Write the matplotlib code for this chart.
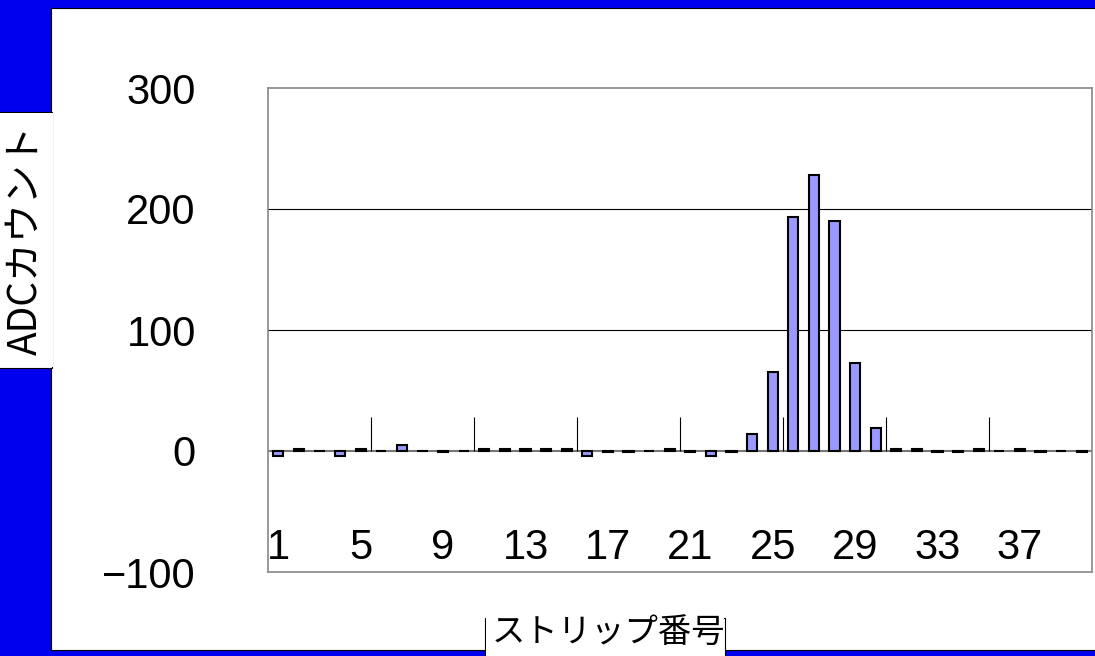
import matplotlib.pyplot as plt
from matplotlib.patches import Rectangle

plt.rcParams['font.family'] = ['Liberation Sans', 'Noto Sans CJK JP', 'DejaVu Sans']

strips = list(range(1, 41))
adc = [-4, 2, 0, -4, 2, 0, 5, 0, -1, 0,
       2, 2, 2, 2, 2, -4, -1, -1, 0, 2,
       -1, -4, -1, 14, 65, 193, 228, 190, 73, 19,
       2, 2, -1, -1, 2, 0, 2, -1, 0, -1]
xtick_labels = [1, 5, 9, 13, 17, 21, 25, 29, 33, 37]
yticks = [-100, 0, 100, 200, 300]

W, H = 1095, 656
fig = plt.figure(figsize=(W / 100, H / 100), dpi=100, facecolor='#0000EE')

# white panel and label boxes (pixel coords -> figure fraction)
def box(x0, y0, x1, y1, ec='black'):
    fig.patches.append(Rectangle((x0 / W, 1 - y1 / H), (x1 - x0) / W, (y1 - y0) / H,
                                 transform=fig.transFigure, facecolor='white',
                                 edgecolor=ec, lw=0.8, zorder=-2))

box(51, 8, 1100, 650)
box(-5, 112, 52, 368)
box(485, 618, 725, 660)
box(0, 113, 53, 367, 'none')
box(486, 615, 724, 660, 'none')

ax = fig.add_axes([268 / W, 1 - 572 / H, (1092 - 268) / W, (572 - 88) / H])
ax.set_facecolor('white')
ax.bar(strips, adc, width=0.5, color='#9999FF', edgecolor='black', linewidth=1.5, zorder=3)
ax.set_xlim(0.5, 40.5)
ax.set_ylim(-100, 300)
ax.set_yticks(yticks)
ax.set_yticklabels([str(v).replace('-', '\u2212') for v in yticks], fontsize=30)
ax.tick_params(axis='y', length=0, pad=52)
ax.set_xticks([])
for v in (100, 200):
    ax.axhline(v, color='black', lw=0.8, zorder=1)
ax.axhline(0, color='#777777', lw=1.5, zorder=2)
ax.vlines([i + 0.5 for i in range(5, 40, 5)], 0, 28, color='black', lw=0.8, zorder=2)
for s in strips:
    if s in xtick_labels:
        ax.text(s, -80, str(s), ha='center', va='center', fontsize=30, zorder=4)
for sp in ax.spines.values():
    sp.set_color('#888888')
    sp.set_linewidth(1.2)

fig.text(26 / W, 1 - 240 / H, 'ADCカウント', rotation=90, ha='center', va='center',
         fontsize=28, family=['Noto Sans CJK JP', 'DejaVu Sans'])
fig.text(608 / W, 1 - 632 / H, 'ストリップ番号', ha='center', va='center',
         fontsize=24, family=['Noto Sans CJK JP', 'DejaVu Sans'])

fig.savefig('out.png', dpi=100, facecolor=fig.get_facecolor())
